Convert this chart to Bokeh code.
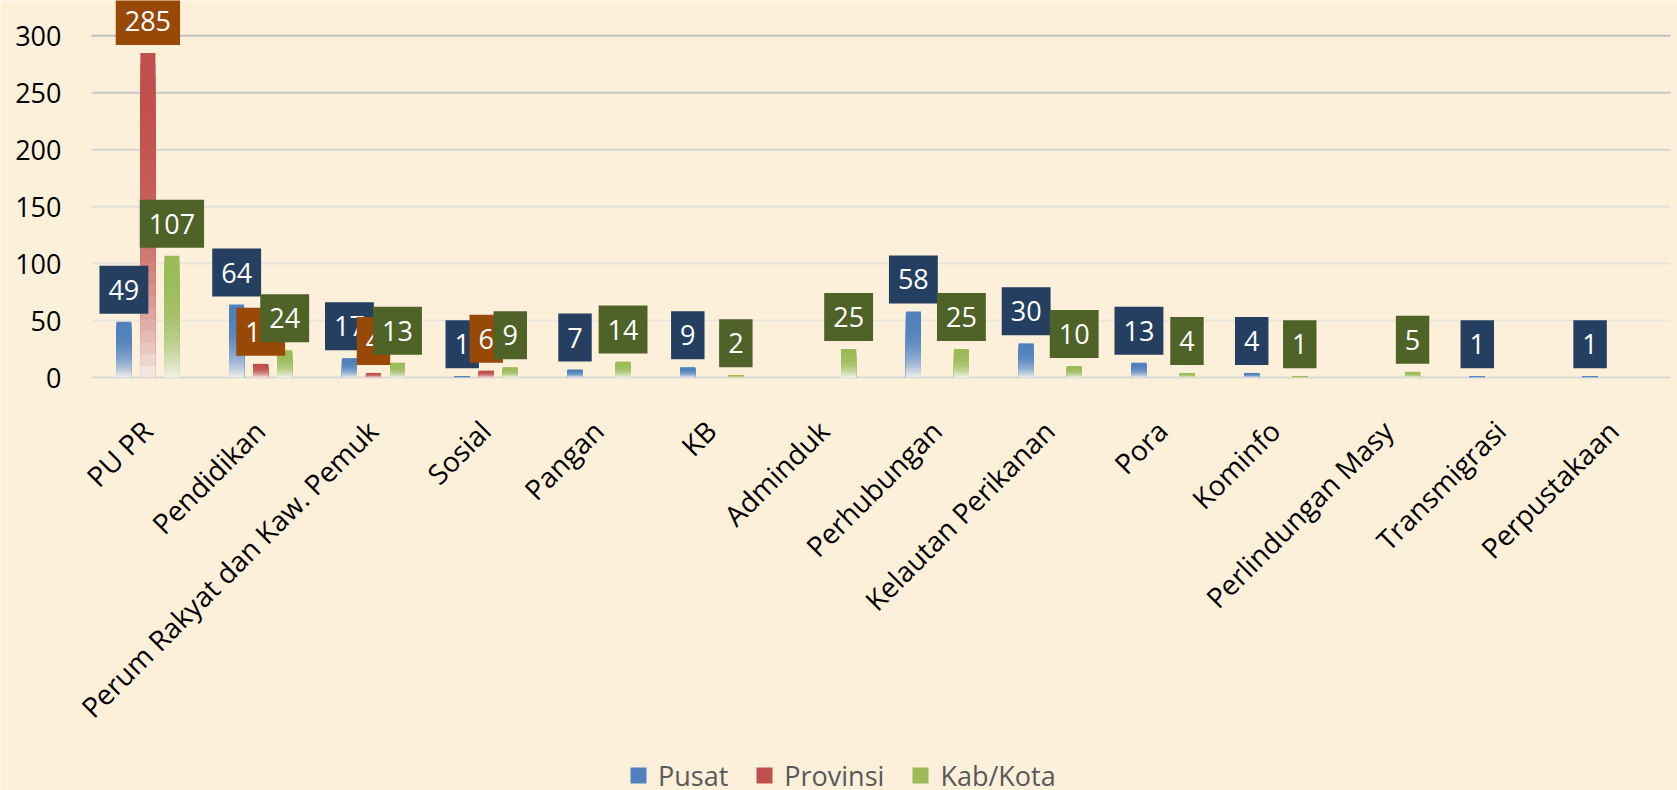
import numpy as np
from math import pi
from bokeh.plotting import figure
from bokeh.models import (ColumnDataSource, Label, Legend, LegendItem, Range1d)
from bokeh.core.properties import value
from bokeh.embed import file_html
from bokeh.resources import INLINE

# ---------------- data ----------------
categories = ["PU PR", "Pendidikan", "Perum Rakyat dan Kaw. Pemuk", "Sosial",
              "Pangan", "KB", "Adminduk", "Perhubungan", "Kelautan Perikanan",
              "Pora", "Kominfo", "Perlindungan Masy", "Transmigrasi",
              "Perpustakaan"]
pusat    = [49, 64, 17, 1, 7, 9, None, 58, 30, 13, 4, None, 1, 1]
provinsi = [285, 12, 4, 6, None, None, None, None, None, None, None, None, None, None]
kabkota  = [107, 24, 13, 9, 14, 2, 25, 25, 10, 4, 1, 5, None, None]
series_names = ["Pusat", "Provinsi", "Kab/Kota"]
y_ticks = [0, 50, 100, 150, 200, 250, 300]

# ---------------- styles / layout ----------------
bar_colors = ["#4F81BD", "#C0504D", "#9BBB59"]
label_colors = ["#243F60", "#984807", "#4F6228"]
offsets = [-0.213, 0.0, 0.213]
grid_colors = ["#DCD9D3", "#EAE6DE", "#E8E4DD", "#E2DFDA", "#D6D5D5", "#C9C9CB", "#C0C0C3"]
BG = "#FCF0DB"
FADE = "#F8F4EE"
FONT = "Open Sans"
N_SLICES = 28

W, H = 1677, 790
PLOT_LEFT, PLOT_RIGHT_PAD, PLOT_BOTTOM = 91, 7, 377     # pixel layout of plotting area
Y_TOP = 331
ncat = len(categories)
PX_X = (W - PLOT_LEFT - PLOT_RIGHT_PAD) / ncat          # pixels per category
PX_Y = PLOT_BOTTOM / Y_TOP                              # pixels per y unit

def hex2rgb(h):
    h = h.lstrip("#")
    return np.array([int(h[i:i + 2], 16) for i in (0, 2, 4)], dtype=float)

def mix(c1, c2, m):
    a, b = hex2rgb(c1), hex2rgb(c2)
    c = a * (1 - m) + b * m
    return "#%02x%02x%02x" % tuple(int(round(v)) for v in c)

p = figure(x_range=Range1d(-PLOT_LEFT / PX_X, ncat + PLOT_RIGHT_PAD / PX_X),
           y_range=Range1d(-(H - PLOT_BOTTOM) / PX_Y, Y_TOP),
           frame_width=W, frame_height=H, min_border=0,
           x_axis_location=None, y_axis_location=None,
           output_backend="svg", toolbar_location=None)
p.background_fill_color = BG
p.border_fill_color = BG
p.outline_line_color = None
for g in p.grid:
    g.visible = False

# gridlines across the category span
p.segment(x0=[0] * len(y_ticks), x1=[ncat] * len(y_ticks), y0=y_ticks, y1=y_ticks,
          line_color=grid_colors, line_width=2)

# y tick labels
p.text(x=[-30 / PX_X] * len(y_ticks), y=y_ticks, text=[str(t) for t in y_ticks],
       text_align="right", text_baseline="middle", text_color="#000000",
       text_font=value(FONT), text_font_size=value("27px"))

# category labels (rotated)
cat_x = [i + 0.5 for i in range(ncat)]
p.text(x=cat_x, y=[-48 / PX_Y] * ncat, text=categories, angle=pi / 4,
       x_offset=-1, text_align="right", text_baseline="alphabetic",
       text_color="#000000", text_font=value(FONT), text_font_size=value("28px"))

# bars with vertical gradient
series = [pusat, provinsi, kabkota]
legend_items = []
for vals, col, off, name in zip(series, bar_colors, offsets, series_names):
    xs, tops, cols = [], [], []
    for k in range(N_SLICES):
        f = (k + 0.5) / N_SLICES
        c = mix(col, FADE, 0.95 * f ** 2.8)
        for i, v in enumerate(vals):
            if v is None:
                continue
            xs.append(i + 0.5 + off)
            tops.append(v * (1 - k / N_SLICES))
            cols.append(c)
    src = ColumnDataSource(dict(x=xs, top=tops, color=cols))
    p.vbar(x="x", top="top", bottom=0, width=0.133,
           fill_color="color", line_color=None, source=src)
    # legend swatch renderer (no visible point in the plot)
    dummy = p.scatter(x=np.array([np.nan]), y=np.array([np.nan]), marker="square",
                      size=10, fill_color=col, line_color=None)
    legend_items.append(LegendItem(label=name, renderers=[dummy], index=0))

# data labels
for vals, lc, off in zip(series, label_colors, offsets):
    for i, v in enumerate(vals):
        if v is None:
            continue
        p.add_layout(Label(x=i + 0.5 + off, y=v, text=str(v),
                           text_align="center", text_baseline="middle",
                           y_offset=32, text_color="white", text_font=FONT,
                           text_font_size="27px",
                           background_fill_color=lc, padding=dict(x=9, y=14)))

legend = Legend(items=legend_items, orientation="horizontal", location=(618, -5),
                glyph_width=40, glyph_height=40, label_standoff=0, spacing=16,
                padding=0, margin=0, background_fill_alpha=0, border_line_color=None,
                label_text_font=FONT, label_text_font_size="27px",
                label_text_color="#595959")
p.add_layout(legend, "center")

open("out.html", "w").write(file_html(p, INLINE))
